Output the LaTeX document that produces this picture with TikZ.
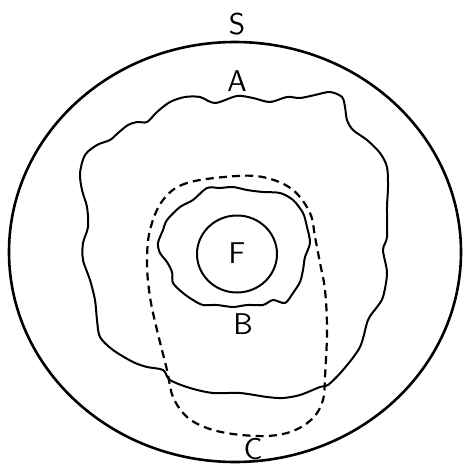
\documentclass[tikz,border=0pt]{standalone}
\usepackage{tikz}

\begin{document}
\begin{tikzpicture}[x=0.5pt,y=-0.5pt,line width=1pt,
  lbl/.style={font=\sffamily\fontsize{15}{15}\selectfont,inner sep=0pt},
  setC/.style={line width=1.1pt,dash pattern=on 4pt off 2.6pt}]
\useasboundingbox (0,0) rectangle (462,466);
% S
\draw[line width=1.3pt] (235,252) ellipse (226 and 210);
\node[lbl] (S) at (237,24) {S};
% A
\draw plot[smooth cycle,tension=0.5] coordinates {
 (342,97) (330,92) (315,95) (300,98) (287,97) (270,102) (253,98) (237,96)
 (215,103) (200,97) (185,97) (170,102) (157,112) (147,122) (137,122)
 (128,125) (118,133) (110,140) (97,145) (85,155) (80,173) (82,190)
 (87,207) (88,227) (83,243) (83,260) (90,280) (95,300) (97,320)
 (100,337) (113,350) (133,362) (147,367) (163,370) (170,380) (190,388)
 (213,393) (240,393) (267,397) (283,398) (300,395) (320,387) (328,385)
 (343,370) (360,347) (368,320) (377,307) (383,297) (387,273) (383,250)
 (387,237) (387,207) (388,187) (387,167) (380,153) (367,140) (353,130)
 (347,120) (345,107)};
\node[lbl] (A) at (237,81) {A};
% B
\draw plot[smooth cycle,tension=0.5] coordinates {
 (207,188) (220,188) (233,187) (247,190) (263,192) (280,193) (293,200)
 (303,213) (307,227) (310,243) (305,257) (303,270) (300,282) (293,293)
 (285,303) (273,300) (263,305) (247,305) (233,307) (217,305) (203,305)
 (193,300) (183,293) (173,283) (172,272) (167,262) (160,253) (158,243)
 (163,230) (167,220) (180,207) (193,200)};
\node[lbl] (B) at (243,324) {B};
% F
\draw (237,254) ellipse (40 and 38.5);
\node[lbl] (F) at (237,253) {F};
% C
\draw[setC] plot[smooth cycle,tension=0.6] coordinates {
 (237,176) (187,183) (163,200) (150,230) (147,263) (150,297) (157,330)
 (167,370) (173,397) (187,417) (207,428) (233,434) (267,436) (293,431)
 (313,418) (323,400) (325,377) (327,330) (325,290) (320,263) (315,237)
 (310,213) (293,190) (267,178)};
\node[lbl] (C) at (253,449) {C};

\end{tikzpicture}
\end{document}
